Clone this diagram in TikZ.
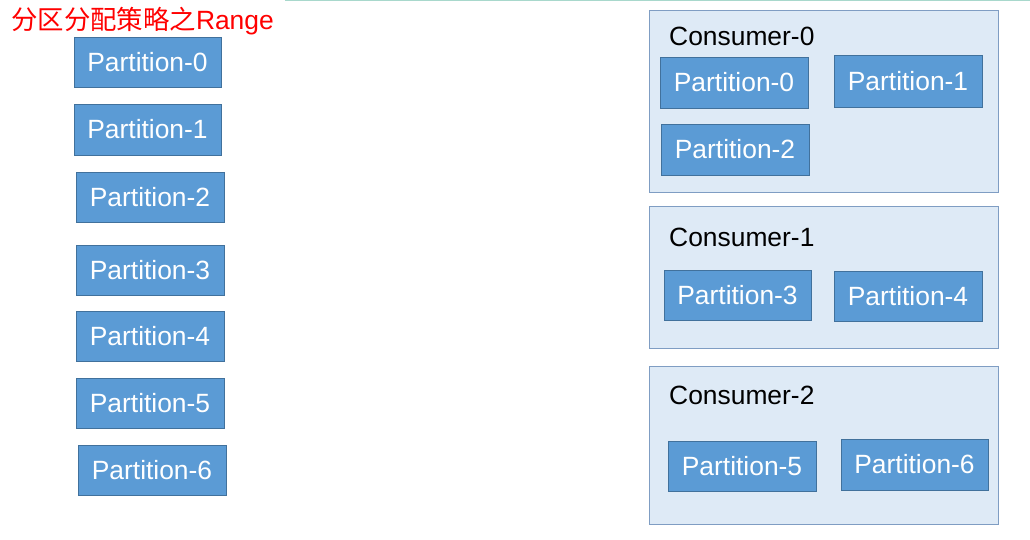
\documentclass[tikz,border=0pt]{standalone}
\usepackage{fontspec}
\setmainfont{Liberation Sans}
\newfontfamily\cjk{Noto Sans CJK SC}
\definecolor{pfill}{HTML}{5B9BD5}
\definecolor{pdraw}{HTML}{41719C}
\definecolor{cfill}{HTML}{DEEAF6}
\definecolor{cdraw}{HTML}{7F9DC3}
\definecolor{topline}{HTML}{A8D8CC}
\begin{document}
\begin{tikzpicture}[x=1pt,y=-1pt,
  part/.style={fill=pfill,draw=pdraw,line width=0.8pt,text=white,font=\fontsize{26.4}{30}\selectfont,inner sep=0pt},
  cons/.style={fill=cfill,draw=cdraw,line width=0.8pt},
  clabel/.style={anchor=west,font=\fontsize{26.4}{30}\selectfont,inner sep=0pt}]
\useasboundingbox (0,0) rectangle (1030,540);
\fill[white] (0,0) rectangle (1030,540);
\draw[topline,line width=1.2pt] (285,0.6) coordinate (tl) -- (1030,0.6) coordinate (tr);
\node[anchor=west,text=red,inner sep=0pt,font=\fontsize{26.4}{30}\selectfont] (title) at (11,21) {{\cjk 分区分配策略之}Range};
% left column
\newcommand\pbox[6]{\node[part,minimum width=#3pt-#2pt,minimum height=#5pt-#4pt] (#1) at ({(#2+#3)/2},{(#4+#5)/2}) {#6};}
\pbox{l0}{74}{221}{37}{87}{Partition-0}
\pbox{l1}{74}{221}{104}{155}{Partition-1}
\pbox{l2}{76}{224}{172}{222}{Partition-2}
\pbox{l3}{76}{224}{245}{295}{Partition-3}
\pbox{l4}{76}{224}{311}{361}{Partition-4}
\pbox{l5}{76}{224}{378}{428}{Partition-5}
\pbox{l6}{78}{226}{445}{495}{Partition-6}
% consumers
\draw[cons] (649,10) rectangle (998,192);
\draw[cons] (649,206) rectangle (998,348);
\draw[cons] (649,366) rectangle (998,524);
\node[clabel] (c0) at (669,36) {Consumer-0};
\node[clabel] (c1) at (669,237) {Consumer-1};
\node[clabel] (c2) at (669,395) {Consumer-2};
\pbox{r0}{660}{808}{57}{108}{Partition-0}
\pbox{r1}{834}{982}{55}{107}{Partition-1}
\pbox{r2}{661}{809}{124}{175}{Partition-2}
\pbox{r3}{664}{811}{270}{320}{Partition-3}
\pbox{r4}{834}{982}{271}{321}{Partition-4}
\pbox{r5}{668}{816}{441}{491}{Partition-5}
\pbox{r6}{841}{988}{439}{490}{Partition-6}
\end{tikzpicture}
\end{document}
